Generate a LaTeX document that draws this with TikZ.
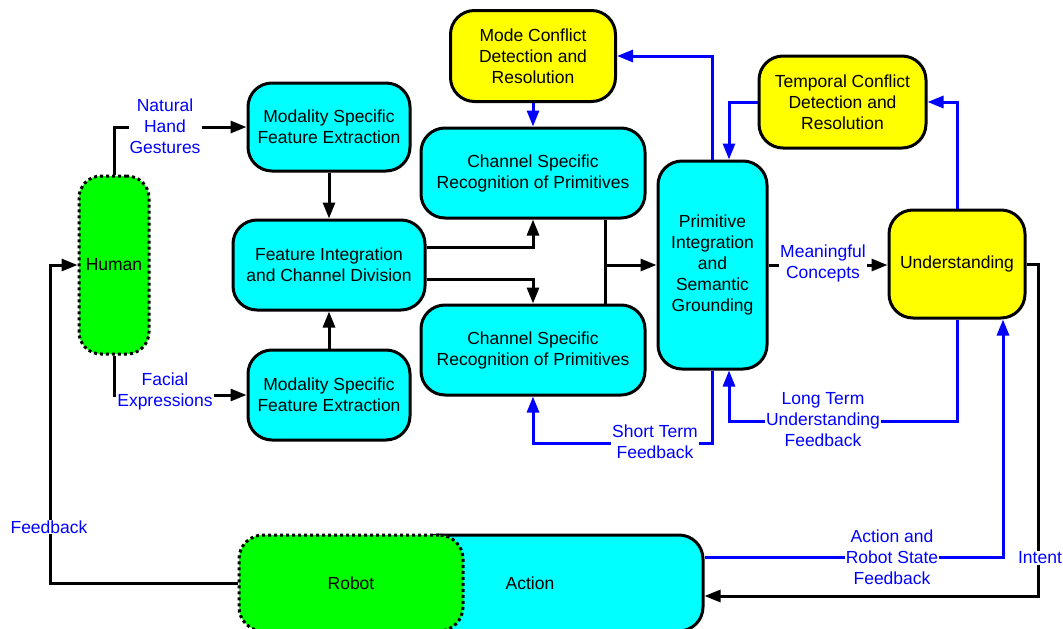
\documentclass[tikz,border=0pt]{standalone}
\usepackage{fontspec}
\setmainfont{Liberation Sans}
\usetikzlibrary{arrows.meta,calc}
\definecolor{boxcyan}{RGB}{0,255,255}
\definecolor{boxyellow}{RGB}{255,255,0}
\definecolor{boxgreen}{RGB}{0,255,0}
\definecolor{linkblue}{RGB}{0,0,255}
\begin{document}
\begin{tikzpicture}[x=1pt,y=-1pt,
  every node/.style={font=\fontsize{17.5}{21}\selectfont},
  box/.style={draw=black, line width=3pt, rounded corners=24pt, align=center,
              inner sep=0pt, fill=boxcyan},
  warm/.style={box, fill=boxyellow},
  agent/.style={box, fill=boxgreen, dash pattern=on 3pt off 3pt},
  wire/.style={line width=3pt, draw=black},
  arr/.style={wire, -{Triangle[length=16pt,width=12pt]}},
  barr/.style={arr, draw=linkblue, -{Triangle[length=16pt,width=12pt,fill=linkblue]}},
  lbl/.style={fill=white, text=linkblue, align=center, inner sep=1pt}
]
\useasboundingbox (0,0) rectangle (1063,629);
\clip (0,0) rectangle (1063,629);

% processing blocks
\node[agent, rounded corners=22pt, minimum width=70pt, minimum height=178pt] (human) at (114,265) {Human};
\node[box, minimum width=162pt, minimum height=88pt] (mse1) at (329,127) {Modality Specific\\Feature Extraction};
\node[box, minimum width=162pt, minimum height=90pt] (mse2) at (329,395) {Modality Specific\\Feature Extraction};
\node[box, minimum width=192pt, minimum height=90pt] (fic) at (329,265) {Feature Integration\\and Channel Division};
\node[box, minimum width=224pt, minimum height=90pt] (csr1) at (533,173) {Channel Specific\\Recognition of Primitives};
\node[box, minimum width=224pt, minimum height=90pt] (csr2) at (533,350) {Channel Specific\\Recognition of Primitives};
\node[box, minimum width=109pt, minimum height=208pt] (pisg) at (712.5,265) {Primitive\\Integration\\and\\Semantic\\Grounding};
\node[warm, minimum width=165pt, minimum height=91pt] (mcdr) at (533,56) {Mode Conflict\\Detection and\\Resolution};
\node[warm, minimum width=167pt, minimum height=92pt] (tcdr) at (842.5,102) {Temporal Conflict\\Detection and\\Resolution};
\node[warm, minimum width=136pt, minimum height=108pt] (und) at (957,264) {Understanding};
% action bar, partly covered by the robot block
\node[box, minimum width=288pt, minimum height=96pt] (action) at (559,583) {};
\node[agent, minimum width=224pt, minimum height=96pt] (robot) at (351,583) {Robot};
\node (actiontext) at (530,583) {Action};

% black data flow
\draw[arr] (human.north) |- (mse1.west);
\draw[arr] (human.south) |- (mse2.west);
\draw[arr] (mse1.south) -- (fic.north);
\draw[arr] (mse2.north) -- (fic.south);
\draw[arr] ([yshift=18pt]fic.east) -| (csr1.south);
\draw[arr] ([yshift=-14pt]fic.east) -| (csr2.north);
\coordinate (jt) at ([xshift=72pt]csr1.south);
\coordinate (jb) at ([xshift=72pt]csr2.north);
\draw[wire] (jt) -- (jb);
\draw[arr] (jt |- pisg.west) -- (pisg.west);
\draw[arr] (pisg.east) -- (pisg.east -| und.west);
\coordinate (intX) at (1038,0);
\draw[arr] (und.east) -- (und.east -| intX) |- ([yshift=-13pt]action.east);
\coordinate (fbX) at (50,0);
\draw[arr] (robot.west) -- (robot.west -| fbX) |- (human.west);

% blue feedback loops
\coordinate (stY) at (0,443);
\coordinate (ltY) at (0,421);
\draw[barr] (mcdr.south) -- (csr1.north);
\draw[barr] (pisg.north) |- (mcdr.east);
\draw[barr] (tcdr.west) -| ([xshift=16.5pt]pisg.north);
\draw[barr] (und.north) |- (tcdr.east);
\draw[barr] (pisg.south) -- (pisg.south |- stY) -| (csr2.south);
\draw[barr] (und.south) -- (und.south |- ltY) -| ([xshift=16.5pt]pisg.south);
\draw[barr] ([yshift=26pt]action.east) -| ([xshift=46pt]und.south);

% connector labels
\node[lbl] (lhand) at (165,126) {Natural\\Hand\\Gestures};
\node[lbl] (lface) at (165,391) {Facial\\Expressions};
\node[lbl] (lmean) at (823,263) {Meaningful\\Concepts};
\node[lbl] (lshort) at (655,442) {Short Term\\Feedback};
\node[lbl] (llong) at (823,420) {Long Term\\Understanding\\Feedback};
\node[lbl] (lact) at (892,557) {Action and\\Robot State\\Feedback};
\node[lbl] (lint) at (1040,558) {Intent};
\node[lbl] (lfb) at (49,527) {Feedback};
\end{tikzpicture}
\end{document}
